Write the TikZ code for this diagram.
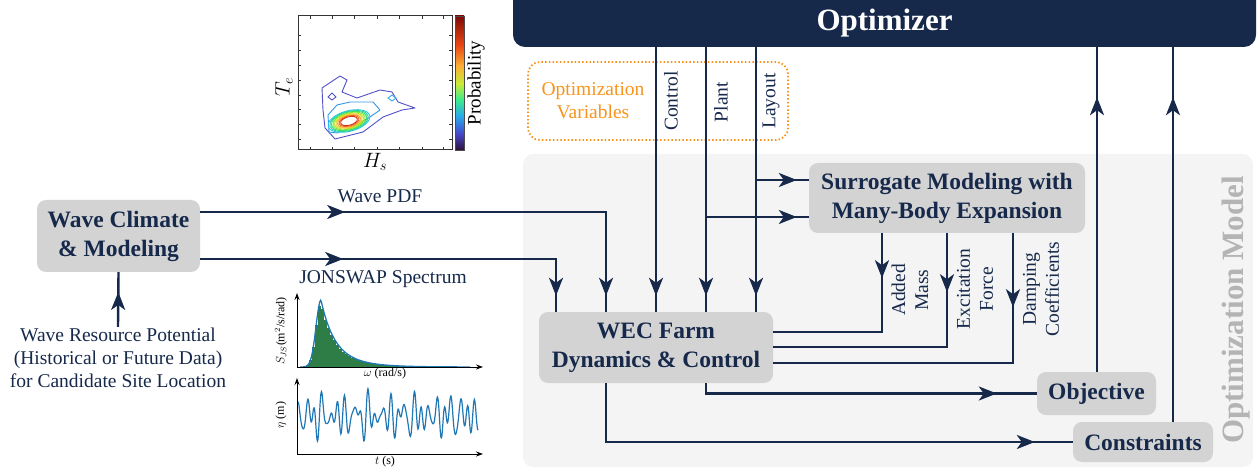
\documentclass[tikz,border=0pt]{standalone}
\usepackage{fontspec}
\setmainfont{LiberationSerif}[Extension=.ttf, UprightFont=*-Regular, BoldFont=*-Bold, ItalicFont=*-Italic, BoldItalicFont=*-BoldItalic]
\usetikzlibrary{arrows.meta,decorations.markings}
\definecolor{navy}{RGB}{22,41,75}
\definecolor{boxgrey}{RGB}{211,211,211}
\definecolor{bggrey}{RGB}{244,244,244}
\definecolor{modelgrey}{RGB}{180,180,180}
\definecolor{varorange}{RGB}{247,148,29}
\definecolor{plotblue}{RGB}{31,119,180}
\definecolor{plotgreen}{RGB}{46,125,70}
\tikzset{
  conn/.style={draw=navy, line width=2.4pt},
  am/.style={postaction={decorate,decoration={markings,mark=at position #1 with {\arrow[navy]{Stealth[length=18pt,width=14pt,inset=5pt]}}}}},
  blk/.style={fill=boxgrey, rounded corners=9pt, text=navy, font=\fontsize{23.5}{29}\selectfont\bfseries, align=center, inner sep=0pt},
  lab/.style={text=navy, font=\fontsize{19.5}{23}\selectfont, align=center, inner sep=1pt},
  small/.style={font=\fontsize{12}{13}\selectfont, inner sep=1pt},
  axis/.style={line width=1pt, -{Stealth[length=7pt,width=5pt]}},
  declare function={jsf(\t)=(\t<321) ? exp(-((\t-321)/7)^2) : (0.65*exp(-(\t-321)/12)+0.35*exp(-(\t-321)/25));}
}
\begin{document}
\begin{tikzpicture}[x=1pt,y=-1pt]
\useasboundingbox (0,0) rectangle (1258,470);
% background of optimization model
\fill[bggrey, rounded corners=10pt] (523,154) rectangle (1253,467);
\node[rotate=90, text=modelgrey, font=\fontsize{31}{31}\selectfont\bfseries] (om) at (1236,310) {Optimization Model};
% optimizer
\fill[navy, rounded corners=12pt] (513,-20) rectangle (1256,47);
\node[minimum width=743pt, minimum height=47pt, inner sep=0pt, text=white, font=\fontsize{31}{31}\selectfont\bfseries] (opt) at (884.5,23.5) {Optimizer};
% optimization variables
\node[draw=varorange, line width=1.8pt, dash pattern=on 1.5pt off 2.2pt, rounded corners=12pt, minimum width=260pt, minimum height=78pt] (ovbox) at (658,101) {};
\node[lab, text=varorange] (ov) at (593,101) {Optimization\\Variables};
% blocks
\node[blk, minimum width=163pt, minimum height=72pt] (wc) at (118.5,236) {Wave Climate\\\& Modeling};
\node[blk, minimum width=234pt, minimum height=71pt] (wec) at (656,347.5) {WEC Farm\\Dynamics \& Control};
\node[blk, minimum width=276pt, minimum height=70pt] (sur) at (947,198) {Surrogate Modeling with\\Many-Body Expansion};
\node[blk, minimum width=119pt, minimum height=43pt] (obj) at (1096.5,393.5) {Objective};
\node[blk, minimum width=140pt, minimum height=40pt] (con) at (1143,442) {Constraints};
\node[lab] (src) at (118,358) {Wave Resource Potential\\(Historical or Future Data)\\for Candidate Site Location};
% coordinates
\coordinate (x1) at (556,0);
\coordinate (x2) at (606,0);
\coordinate (xc) at (656,0);
\coordinate (xp) at (706,0);
\coordinate (xl) at (756,0);
\coordinate (xa) at (882,0);
\coordinate (xe) at (947,0);
\coordinate (xd) at (1013,0);
\coordinate (xo) at (1097,0);
\coordinate (xk) at (1173,0);
\coordinate (wy1) at (0,212);
\coordinate (wy2) at (0,259);
\coordinate (ya) at (0,332);
\coordinate (ye) at (0,347);
\coordinate (yd) at (0,363);
\coordinate (sl) at (756,180);
\coordinate (sp) at (706,217);
% connectors
\draw[conn, am=35pt] (src.north) -- (wc.south);
\draw[conn, am=145pt, am=-16pt] (wc.east |- wy1) -- (x2 |- wy1) -- (wec.north -| x2);
\draw[conn, am=143pt, am=-16pt] (wc.east |- wy2) -- (x1 |- wy2) -- (wec.north -| x1);
\draw[conn, am=-16pt] (opt.south -| xc) -- (wec.north -| xc);
\draw[conn, am=-16pt] (opt.south -| xp) -- (wec.north -| xp);
\draw[conn, am=-16pt] (opt.south -| xl) -- (wec.north -| xl);
\draw[conn, am=-12pt] (sl) -- (sur.west |- sl);
\draw[conn, am=-12pt] (sp) -- (sur.west |- sp);
\draw[conn, am=45pt] (sur.south -| xa) -- (xa |- ya) -- (wec.east |- ya);
\draw[conn, am=59pt] (sur.south -| xe) -- (xe |- ye) -- (wec.east |- ye);
\draw[conn, am=74pt] (sur.south -| xd) -- (xd |- yd) -- (wec.east |- yd);
\draw[conn, am=-40pt] (wec.south -| xp) -- (xp |- obj) -- (obj.west);
\draw[conn, am=-38pt] (wec.south -| x2) -- (x2 |- con) -- (con.west);
\draw[conn, am=-50pt] (obj.north -| xo) -- (opt.south -| xo);
\draw[conn, am=-50pt] (con.north -| xk) -- (opt.south -| xk);
% connector labels
\node[lab, rotate=90] (lc) at (671,101) {Control};
\node[lab, rotate=90] (lp) at (721,102) {Plant};
\node[lab, rotate=90] (ll) at (771,101) {Layout};
\node[lab, rotate=90] (lam) at (910,290) {Added\\Mass};
\node[lab, rotate=90] (lef) at (975,289) {Excitation\\Force};
\node[lab, rotate=90] (ldc) at (1041,289) {Damping\\Coefficients};
\node[lab] (lpdf) at (380,196) {Wave PDF};
\node[lab] (ljs) at (383,279) {JONSWAP Spectrum};
% ---- contour plot ----
\shade[top color={rgb,255:red,125;green,10;blue,5}, bottom color={rgb,255:red,235;green,70;blue,20}] (455,16) rectangle (464,45);
\shade[top color={rgb,255:red,235;green,70;blue,20}, bottom color={rgb,255:red,250;green,175;blue,50}] (455,45) rectangle (464,66);
\shade[top color={rgb,255:red,250;green,175;blue,50}, bottom color={rgb,255:red,200;green,235;blue,55}] (455,66) rectangle (464,84);
\shade[top color={rgb,255:red,200;green,235;blue,55}, bottom color={rgb,255:red,60;green,235;blue,140}] (455,84) rectangle (464,100);
\shade[top color={rgb,255:red,60;green,235;blue,140}, bottom color={rgb,255:red,40;green,170;blue,235}] (455,100) rectangle (464,116);
\shade[top color={rgb,255:red,40;green,170;blue,235}, bottom color={rgb,255:red,70;green,70;blue,200}] (455,116) rectangle (464,134);
\shade[top color={rgb,255:red,70;green,70;blue,200}, bottom color={rgb,255:red,48;green,18;blue,60}] (455,134) rectangle (464,150);
\draw[line width=0.5pt, black!70] (455,16) rectangle (464,150);
\draw[line width=1pt, black!80] (298,16) rectangle (452,150);
\foreach \t in {35,50,65,80,95,109,124,139} {\draw[line width=0.8pt, black!80] (298,\t) -- (301,\t); \draw[line width=0.8pt, black!80] (452,\t) -- (449,\t);}
\foreach \t in {310,332,354,377,399,422,443} {\draw[line width=0.8pt, black!80] (\t,150) -- (\t,147); \draw[line width=0.8pt, black!80] (\t,16) -- (\t,19);}
\draw[line width=0.9pt, color={rgb,255:red,80;green,80;blue,200}, line join=round] (322,88) -- (340,76) -- (347,80) -- (342,92) -- (357,98) -- (380,90) -- (392,92) -- (398,102) -- (415,108) -- (402,110) -- (383,117) -- (363,132) -- (335,139) -- (325,128) -- (323,110) -- cycle;
\draw[line width=0.9pt, color={rgb,255:red,80;green,80;blue,200}] (328,97) -- (332,93) -- (336,97) -- (332,100) -- cycle;
\draw[line width=0.9pt, color={rgb,255:red,50;green,170;blue,230}] (388,98) -- (392,95) -- (396,98) -- (392,101) -- cycle;
\draw[line width=0.9pt, color={rgb,255:red,50;green,150;blue,235}, line join=round] (328,115) -- (337,105) -- (350,102) -- (373,102) -- (380,110) -- (370,117) -- (357,125) -- (337,133) -- (329,132) -- cycle;
\foreach \i/\c in {1/{rgb,255:red,40;green,200;blue,225}, 2/{rgb,255:red,40;green,210;blue,170}, 3/{rgb,255:red,60;green,220;blue,110}, 4/{rgb,255:red,120;green,230;blue,60}, 5/{rgb,255:red,185;green,230;blue,40}, 6/{rgb,255:red,235;green,210;blue,40}, 7/{rgb,255:red,250;green,160;blue,40}, 8/{rgb,255:red,240;green,100;blue,30}, 9/{rgb,255:red,220;green,50;blue,20}} {
  \draw[line width=0.9pt, color=\c, rotate around={15:(349,121)}] (349,121) ellipse ({23-1.6*\i} and {11-0.75*\i});
}
\node[font=\fontsize{20}{20}\selectfont, rotate=90] (te) at (284,87) {$T_e$};
\node[font=\fontsize{20}{20}\selectfont] (hs) at (375,162) {$H_s$};
\node[font=\fontsize{19}{19}\selectfont, rotate=90] (prob) at (476,83) {Probability};
% ---- spectrum plot ----
\foreach \b in {306,309,...,405} {\fill[plotgreen] (\b,367) rectangle ({\b+3},{367-64*jsf(\b+1.5)});}
\draw[plotblue, line width=1.3pt] plot[domain=300:470, samples=200] (\x,{367-67*jsf(\x)});
\draw[axis] (297,367) -- (483,367);
\draw[axis] (297,367) -- (297,293);
\node[small, rotate=90] (sjs) at (281,331) {$S_{JS}$(m$^2$/s/rad)};
\node[small] (om2) at (385,374) {$\omega$ (rad/s)};
% ---- time series ----
\draw[plotblue, line width=1.2pt] plot[domain=298:478, samples=400, smooth] (\x,{416 - 11*sin(47*(\x-297)) - 8*sin(31*(\x-297)+40) - 6*sin(61*(\x-297)+100) - 5*sin(23*(\x-297)+200)});
\draw[axis] (297,454) -- (483,454);
\draw[axis] (297,454) -- (297,378);
\node[small, rotate=90] (eta) at (281,415) {$\eta$ (m)};
\node[small] (ts) at (385,462) {$t$ (s)};
\end{tikzpicture}
\end{document}
